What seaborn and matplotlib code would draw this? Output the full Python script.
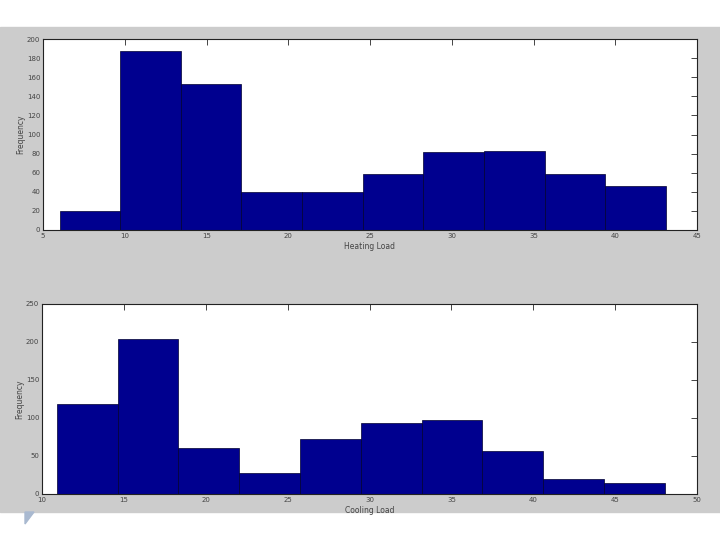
import numpy as np
import matplotlib
matplotlib.use("Agg")
import matplotlib.pyplot as plt
import seaborn as sns
from matplotlib.patches import Rectangle, Polygon

# heating load histogram (10 bins)
heating_range = (6.01, 43.1)
heating_counts = [20, 187, 153, 40, 40, 59, 82, 83, 59, 46]
heating_xticks = [5, 10, 15, 20, 25, 30, 35, 40, 45]
heating_yticks = [0, 20, 40, 60, 80, 100, 120, 140, 160, 180, 200]

# cooling load histogram (10 bins)
cooling_range = (10.9, 48.03)
cooling_counts = [118, 204, 61, 28, 73, 94, 97, 56, 20, 14]
cooling_xticks = [10, 15, 20, 25, 30, 35, 40, 45, 50]
cooling_yticks = [0, 50, 100, 150, 200, 250]

BAR = "#00008f"
GREY = "#cccccc"

sns.set_style("white")
plt.rcParams['font.family'] = ['DejaVu Sans']

fig = plt.figure(figsize=(7.2, 5.4), dpi=100)
fig.patch.set_facecolor("white")
# matlab figure background
fig.patches.append(Rectangle((0, 1 - 512 / 540), 1, (512 - 27) / 540,
                             transform=fig.transFigure, color=GREY, zorder=-10))
# slide bullet
fig.patches.append(Polygon([(25 / 720, 1 - 512 / 540), (34 / 720, 1 - 512 / 540),
                            (25 / 720, 1 - 524 / 540)],
                           transform=fig.transFigure, color="#a9b9d0", zorder=-10))


def draw(ax, rng, counts, xticks, yticks, xlabel):
    n = len(counts)
    w = (rng[1] - rng[0]) / n
    centers = [rng[0] + w * (i + 0.5) for i in range(n)]
    sns.histplot(x=centers, weights=counts, bins=n, binrange=rng, ax=ax,
                 color=BAR, alpha=1, edgecolor="#000030", linewidth=0.5)
    ax.set_xlim(xticks[0], xticks[-1])
    ax.set_ylim(yticks[0], yticks[-1])
    ax.set_xticks(xticks)
    ax.set_yticks(yticks)
    ax.tick_params(direction="in", length=4, width=0.6, labelsize=5,
                   labelcolor="#444444", top=True, right=True, pad=2)
    for s in ax.spines.values():
        s.set_linewidth(0.8)
        s.set_color("#222222")
    ax.set_xlabel(xlabel, fontsize=5.5, color="#444444", labelpad=2)
    ax.set_ylabel("Frequency", fontsize=5.5, color="#444444", labelpad=1)
    ax.set_facecolor("white")


ax1 = fig.add_axes([43 / 720, 1 - 230 / 540, 654 / 720, 191 / 540])
draw(ax1, heating_range, heating_counts, heating_xticks, heating_yticks, "Heating Load")

ax2 = fig.add_axes([42 / 720, 1 - 494 / 540, 655 / 720, 190 / 540])
draw(ax2, cooling_range, cooling_counts, cooling_xticks, cooling_yticks, "Cooling Load")

fig.savefig("out.png", dpi=100, facecolor=fig.get_facecolor())
